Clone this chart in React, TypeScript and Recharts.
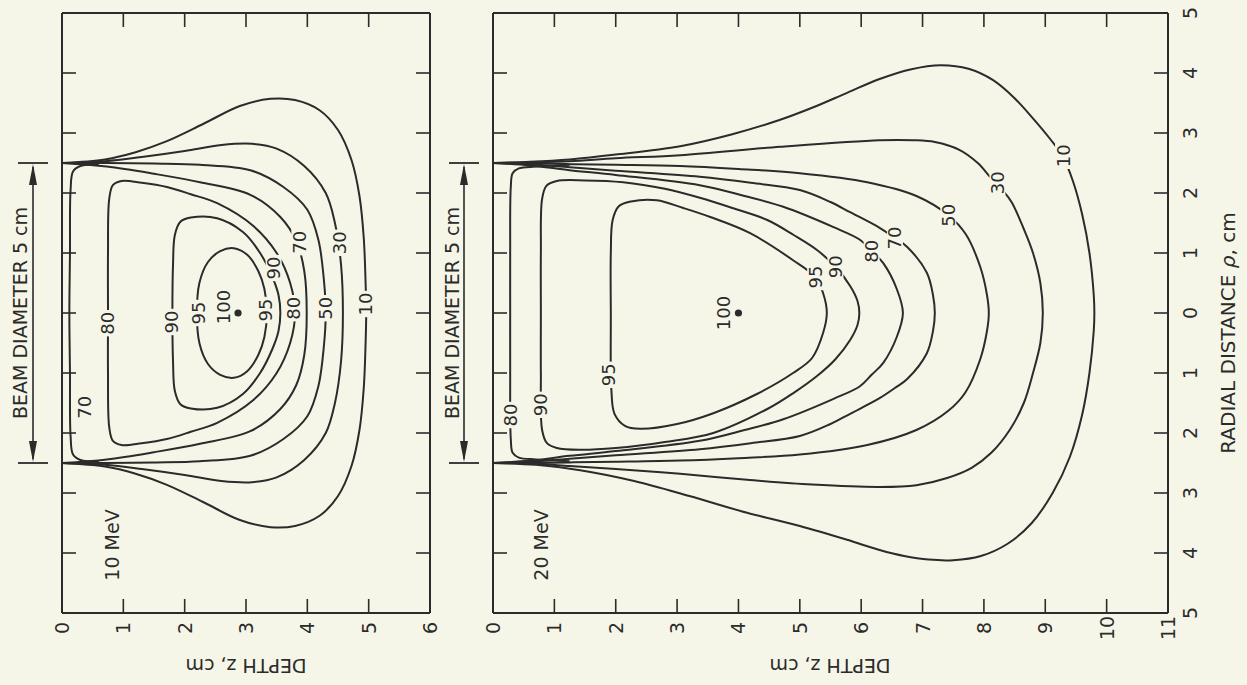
import React from 'react';
import { ScatterChart, Scatter, XAxis, YAxis } from 'recharts';

const BG = '#f6f6e8';
const INK = '#2b2b2b';
const FONT = '"DejaVu Sans", sans-serif';

// ---------- axis ticks ----------
const depthTicks10 = [0, 1, 2, 3, 4, 5, 6];
const depthTicks20 = [0, 1, 2, 3, 4, 5, 6, 7, 8, 9, 10, 11];
const radialTicks = [5, 4, 3, 2, 1, 0, -1, -2, -3, -4, -5];

// ---------- 10 MeV isodose curves [depth z, radial rho] ----------
const mev10Iso10 = [[0,2.5],[0.7,2.56],[1.2,2.68],[1.7,2.86],[2.3,3.15],[2.9,3.45],[3.4,3.57],[3.8,3.55],[4.2,3.38],[4.5,3.05],[4.72,2.55],[4.85,1.95],[4.92,1.25],[4.95,0.5],[4.96,0],[4.95,-0.5],[4.92,-1.25],[4.85,-1.95],[4.72,-2.55],[4.5,-3.05],[4.2,-3.38],[3.8,-3.55],[3.4,-3.57],[2.9,-3.45],[2.3,-3.15],[1.7,-2.86],[1.2,-2.68],[0.7,-2.56],[0,-2.5]];
const mev10Iso30 = [[0,2.5],[0.7,2.53],[1.3,2.6],[2.0,2.7],[2.6,2.8],[3.1,2.82],[3.5,2.74],[3.95,2.45],[4.3,2.0],[4.45,1.5],[4.55,0.8],[4.58,0],[4.55,-0.8],[4.45,-1.5],[4.3,-2.0],[3.95,-2.45],[3.5,-2.74],[3.1,-2.82],[2.6,-2.8],[2.0,-2.7],[1.3,-2.6],[0.7,-2.53],[0,-2.5]];
const mev10Iso50 = [[0,2.5],[0.7,2.5],[1.5,2.49],[2.25,2.47],[3.07,2.38],[3.61,2.1],[4.0,1.72],[4.18,1.22],[4.27,0.55],[4.3,0],[4.27,-0.55],[4.18,-1.22],[4.0,-1.72],[3.61,-2.1],[3.07,-2.38],[2.25,-2.47],[1.5,-2.49],[0.7,-2.5],[0,-2.5]];
const mev10Iso70Deep = [[0,2.5],[0.73,2.44],[1.5,2.32],[2.25,2.18],[3.07,1.97],[3.56,1.6],[3.82,1.2],[3.95,0.7],[3.99,0],[3.95,-0.7],[3.82,-1.2],[3.56,-1.6],[3.07,-1.97],[2.25,-2.18],[1.5,-2.32],[0.73,-2.44],[0,-2.5]];
const mev10Iso70Surf = [[0.6,2.48],[0.3,2.45],[0.18,2.36],[0.14,2.05],[0.13,1.0],[0.12,0],[0.13,-1.0],[0.14,-2.05],[0.18,-2.36],[0.3,-2.45],[0.6,-2.48]];
const mev10Iso80 = [[0.75,0],[0.75,1.0],[0.77,1.9],[0.83,2.13],[0.97,2.2],[1.3,2.17],[1.71,2.1],[2.1,1.98],[2.53,1.83],[3.12,1.45],[3.5,1.0],[3.72,0.5],[3.8,0],[3.72,-0.5],[3.5,-1.0],[3.12,-1.45],[2.53,-1.83],[2.1,-1.98],[1.71,-2.1],[1.3,-2.17],[0.97,-2.2],[0.83,-2.13],[0.77,-1.9],[0.75,-1.0],[0.75,0]];
const mev10Iso90 = [[1.8,0],[1.81,0.8],[1.84,1.3],[1.93,1.52],[2.1,1.59],[2.53,1.58],[2.95,1.35],[3.23,1.0],[3.43,0.6],[3.53,0.3],[3.56,0],[3.53,-0.3],[3.43,-0.6],[3.23,-1.0],[2.95,-1.35],[2.53,-1.58],[2.1,-1.59],[1.93,-1.52],[1.84,-1.3],[1.81,-0.8],[1.8,0]];
const mev10Iso95 = [[2.2,0],[2.24,0.5],[2.38,0.85],[2.58,1.03],[2.8,1.08],[3.02,0.97],[3.2,0.7],[3.3,0.4],[3.34,0],[3.3,-0.4],[3.2,-0.7],[3.02,-0.97],[2.8,-1.08],[2.58,-1.03],[2.38,-0.85],[2.24,-0.5],[2.2,0]];
const mev10Peak = [[2.87, 0]];
const mev10Labels: [number, number, string][] = [[4.95,0.15,'10'],[4.52,1.17,'30'],[4.3,0.08,'50'],[3.87,1.18,'70'],[0.36,-1.57,'70'],[3.77,0.08,'80'],[0.75,-0.17,'80'],[3.45,0.75,'90'],[1.78,-0.15,'90'],[3.31,0.05,'95'],[2.22,0,'95'],[2.63,0.1,'100']];

// ---------- 20 MeV isodose curves ----------
const mev20Iso10 = [[0,2.5],[0.6,2.52],[1.25,2.56],[2.0,2.64],[3.05,2.78],[3.9,2.98],[4.68,3.22],[5.2,3.42],[5.77,3.67],[6.3,3.9],[6.8,4.06],[7.3,4.13],[7.75,4.07],[8.15,3.88],[8.5,3.58],[8.82,3.22],[9.08,2.9],[9.29,2.6],[9.45,2.2],[9.6,1.65],[9.72,1.0],[9.79,0.3],[9.8,0],[9.79,-0.3],[9.72,-1.0],[9.6,-1.7],[9.4,-2.4],[9.12,-3.0],[8.78,-3.5],[8.38,-3.85],[7.95,-4.05],[7.5,-4.12],[7.1,-4.11],[6.7,-4.05],[6.3,-3.95],[5.77,-3.78],[5.0,-3.55],[4.14,-3.33],[3.2,-3.05],[2.3,-2.8],[1.42,-2.62],[0.7,-2.53],[0,-2.5]];
const mev20Iso30 = [[0,2.5],[0.6,2.51],[1.25,2.53],[2.0,2.58],[3.05,2.63],[4.68,2.77],[6.3,2.88],[6.85,2.88],[7.2,2.85],[7.6,2.72],[7.9,2.5],[8.1,2.27],[8.3,2.05],[8.45,1.85],[8.65,1.4],[8.8,1.0],[8.92,0.5],[8.96,0],[8.92,-0.5],[8.8,-1.0],[8.65,-1.5],[8.42,-1.95],[8.12,-2.33],[7.8,-2.58],[7.4,-2.75],[6.9,-2.87],[6.3,-2.9],[5.2,-2.86],[4.14,-2.78],[3.05,-2.68],[2.0,-2.6],[1.25,-2.55],[0.6,-2.51],[0,-2.5]];
const mev20Iso50 = [[0,2.5],[0.6,2.5],[1.25,2.48],[2.0,2.47],[3.05,2.45],[4.0,2.4],[5.0,2.33],[6.1,2.18],[6.9,1.95],[7.42,1.63],[7.7,1.32],[7.94,0.77],[8.05,0.3],[8.08,0],[8.05,-0.3],[7.94,-0.77],[7.7,-1.32],[7.42,-1.63],[6.9,-1.95],[6.1,-2.2],[5.0,-2.36],[4.0,-2.42],[3.05,-2.46],[2.0,-2.48],[1.25,-2.49],[0.6,-2.5],[0,-2.5]];
const mev20Iso70 = [[0,2.5],[0.6,2.48],[1.25,2.43],[2.0,2.37],[3.37,2.27],[4.2,2.17],[5.0,2.05],[5.5,1.85],[5.82,1.68],[6.3,1.42],[6.55,1.25],[6.75,1.1],[7.07,0.67],[7.17,0.3],[7.2,0],[7.17,-0.3],[7.07,-0.67],[6.75,-1.1],[6.55,-1.25],[6.3,-1.42],[5.82,-1.68],[5.5,-1.85],[5.0,-2.05],[4.2,-2.17],[3.37,-2.27],[2.0,-2.37],[1.25,-2.43],[0.6,-2.48],[0,-2.5]];
const mev20Iso80Deep = [[0,2.5],[0.6,2.46],[1.25,2.38],[2.0,2.3],[3.37,2.13],[4.1,1.95],[4.73,1.77],[5.55,1.43],[5.98,1.22],[6.17,1.03],[6.36,0.83],[6.58,0.4],[6.68,0],[6.58,-0.4],[6.36,-0.83],[6.17,-1.03],[5.98,-1.22],[5.55,-1.43],[4.73,-1.77],[4.1,-1.95],[3.37,-2.13],[2.0,-2.3],[1.25,-2.38],[0.6,-2.46],[0,-2.5]];
const mev20Iso80Surf = [[1.25,2.47],[0.7,2.44],[0.42,2.41],[0.32,2.33],[0.29,2.1],[0.28,1.0],[0.28,0],[0.28,-1.0],[0.29,-2.1],[0.32,-2.33],[0.42,-2.41],[0.7,-2.44],[1.25,-2.47]];
const mev20Iso90 = [[0.78,0],[0.78,1.0],[0.8,1.9],[0.87,2.12],[1.04,2.2],[1.5,2.21],[2.12,2.18],[2.8,2.07],[3.37,1.92],[3.9,1.75],[4.47,1.55],[4.9,1.3],[5.28,1.05],[5.58,0.77],[5.82,0.45],[5.94,0.2],[5.97,0],[5.94,-0.2],[5.82,-0.45],[5.58,-0.77],[5.28,-1.05],[4.9,-1.33],[4.47,-1.6],[3.59,-2.0],[2.8,-2.15],[2.0,-2.25],[1.42,-2.28],[1.04,-2.25],[0.88,-2.17],[0.8,-1.95],[0.78,-1.0],[0.78,0]];
const mev20Iso95 = [[1.92,0],[1.92,1.0],[1.95,1.55],[2.05,1.78],[2.25,1.86],[2.67,1.88],[3.1,1.75],[3.54,1.6],[4.19,1.33],[4.89,0.88],[5.25,0.6],[5.38,0.33],[5.44,0],[5.38,-0.33],[5.2,-0.75],[4.89,-1.0],[4.3,-1.35],[3.59,-1.67],[3.0,-1.85],[2.4,-1.93],[2.15,-1.88],[1.98,-1.68],[1.93,-1.3],[1.92,0]];
const mev20Peak = [[4.0, 0]];
const mev20Labels: [number, number, string][] = [[9.29,2.62,'10'],[8.22,2.17,'30'],[7.42,1.63,'50'],[6.55,1.25,'70'],[6.17,1.03,'80'],[5.58,0.77,'90'],[5.25,0.6,'95'],[3.75,0,'100'],[0.29,-1.7,'80'],[0.78,-1.53,'90'],[1.88,-1.03,'95']];

// ---------- helpers ----------
const toPts = (a: number[][]) => a.map(([d, p]) => ({ d, p }));
const toLabels = (a: [number, number, string][]) => a.map(([d, p, t]) => ({ d, p, t }));

// centripetal Catmull-Rom curve factory (d3-style)
function catmullRom(context: any) {
  let pts: number[][] = [];
  const seg = (p0: number[], p1: number[], p2: number[], p3: number[]) => {
    const dist = (a: number[], b: number[]) => Math.hypot(a[0] - b[0], a[1] - b[1]);
    const d01 = dist(p0, p1), d12 = dist(p1, p2), d23 = dist(p2, p3);
    const l01 = Math.sqrt(d01), l12 = Math.sqrt(d12), l23 = Math.sqrt(d23);
    let c1x = p1[0], c1y = p1[1], c2x = p2[0], c2y = p2[1];
    if (l01 > 1e-6) {
      const a = 2 * d01 + 3 * l01 * l12 + d12;
      const n = 3 * l01 * (l01 + l12);
      c1x = (p1[0] * a - p0[0] * d12 + p2[0] * d01) / n;
      c1y = (p1[1] * a - p0[1] * d12 + p2[1] * d01) / n;
    }
    if (l23 > 1e-6) {
      const b = 2 * d23 + 3 * l23 * l12 + d12;
      const m = 3 * l23 * (l23 + l12);
      c2x = (p2[0] * b + p1[0] * d23 - p3[0] * d12) / m;
      c2y = (p2[1] * b + p1[1] * d23 - p3[1] * d12) / m;
    }
    context.bezierCurveTo(c1x, c1y, c2x, c2y, p2[0], p2[1]);
  };
  return {
    areaStart() {},
    areaEnd() {},
    lineStart() { pts = []; },
    point(x: number, y: number) { pts.push([+x, +y]); },
    lineEnd() {
      const n = pts.length;
      if (!n) return;
      const closed = n > 3 && Math.abs(pts[0][0] - pts[n - 1][0]) < 0.5 && Math.abs(pts[0][1] - pts[n - 1][1]) < 0.5;
      context.moveTo(pts[0][0], pts[0][1]);
      for (let i = 0; i < n - 1; i++) {
        const p1 = pts[i], p2 = pts[i + 1];
        const p0 = i > 0 ? pts[i - 1] : closed ? pts[n - 2] : p1;
        const p3 = i < n - 2 ? pts[i + 2] : closed ? pts[1] : p2;
        seg(p0, p1, p2, p3);
      }
      if (closed) context.closePath();
    },
  };
}

const TICK = 14;
const tickText = { fontFamily: FONT, fontSize: 19, fill: INK } as const;

const BottomTick = (props: any) => {
  const { x, y, payload } = props;
  const ly = y + 15;
  return (
    <g>
      <line x1={x} y1={y} x2={x} y2={y - TICK} stroke={INK} strokeWidth={1.6} />
      <text x={x} y={ly} transform={`rotate(-90 ${x} ${ly})`} textAnchor="middle" dominantBaseline="central" {...tickText}>{payload.value}</text>
    </g>
  );
};
const TopTick = (props: any) => {
  const { x, y } = props;
  return <line x1={x} y1={y} x2={x} y2={y + TICK} stroke={INK} strokeWidth={1.6} />;
};
const LeftTick = (props: any) => {
  const { x, y } = props;
  return <line x1={x} y1={y} x2={x + TICK} y2={y} stroke={INK} strokeWidth={1.6} />;
};
const RightTickPlain = (props: any) => {
  const { x, y } = props;
  return <line x1={x} y1={y} x2={x - TICK} y2={y} stroke={INK} strokeWidth={1.6} />;
};
const RightTickLabel = (props: any) => {
  const { x, y, payload } = props;
  const lx = x + 22;
  return (
    <g>
      <line x1={x} y1={y} x2={x - TICK} y2={y} stroke={INK} strokeWidth={1.6} />
      <text x={lx} y={y} transform={`rotate(-90 ${lx} ${y})`} textAnchor="middle" dominantBaseline="central" {...tickText}>{Math.abs(payload.value)}</text>
    </g>
  );
};

const NoShape = () => <g />;
const PeakDot = (props: any) => (props.cx == null ? <g /> : <circle cx={props.cx} cy={props.cy} r={3.6} fill={INK} />);
const IsoLabel = (props: any) => {
  const { cx, cy } = props;
  if (cx == null) return <g />;
  const t = String(props.payload?.t ?? props.t ?? '');
  const len = t.length * 11.2 + 4;
  return (
    <g>
      <rect x={cx - 8} y={cy - len / 2} width={16} height={len} fill={BG} />
      <text x={cx} y={cy} transform={`rotate(-90 ${cx} ${cy})`} textAnchor="middle" dominantBaseline="central" fontFamily={FONT} fontSize={18} fill={INK}>{t}</text>
    </g>
  );
};

const axisLine = { stroke: INK, strokeWidth: 2 };

function Panel(props: { left: number; right: number; depthMax: number; depthTicks: number[]; curves: number[][][]; peak: number[][]; labels: [number, number, string][]; labelRight: boolean }) {
  const { left, right, depthMax, depthTicks, curves, peak, labels, labelRight } = props;
  const inner = depthTicks.filter((t) => t > 0 && t < depthMax);
  // plot area: x from `left` to `right`, y from 13 to 613 (each axis occupies 1px)
  return (
    <div style={{ position: 'absolute', left: 0, top: 0 }}>
      <ScatterChart width={1247} height={685} margin={{ top: 12, right: 1247 - right - 1, bottom: 71, left: left - 1 }}>
        <XAxis xAxisId="b" type="number" dataKey="d" domain={[0, depthMax]} ticks={depthTicks} interval={0} orientation="bottom" height={1} tickSize={0} tickMargin={0} tickLine={false} axisLine={axisLine} tick={(p: any) => <BottomTick {...p} />} allowDataOverflow />
        <XAxis xAxisId="t" type="number" dataKey="d" domain={[0, depthMax]} ticks={inner} interval={0} orientation="top" height={1} tickSize={0} tickMargin={0} tickLine={false} axisLine={axisLine} tick={(p: any) => <TopTick {...p} />} allowDataOverflow />
        <YAxis yAxisId="l" type="number" dataKey="p" domain={[-5, 5]} ticks={radialTicks.filter((t) => Math.abs(t) < 5)} interval={0} orientation="left" width={1} tickSize={0} tickMargin={0} tickLine={false} axisLine={axisLine} tick={(p: any) => <LeftTick {...p} />} allowDataOverflow />
        <YAxis yAxisId="r" type="number" dataKey="p" domain={[-5, 5]} ticks={labelRight ? radialTicks : radialTicks.filter((t) => Math.abs(t) < 5)} interval={0} orientation="right" width={1} tickSize={0} tickMargin={0} tickLine={false} axisLine={axisLine} tick={(p: any) => (labelRight ? <RightTickLabel {...p} /> : <RightTickPlain {...p} />)} allowDataOverflow />
        {curves.map((c, i) => (
          <Scatter key={i} xAxisId="b" yAxisId="l" data={toPts(c)} line={{ stroke: INK, strokeWidth: 2 }} lineType="joint" lineJointType={catmullRom as any} shape={NoShape} fill={INK} isAnimationActive={false} />
        ))}
        <Scatter xAxisId="b" yAxisId="l" data={toPts(peak)} shape={PeakDot} fill={INK} isAnimationActive={false} />
        <Scatter xAxisId="b" yAxisId="l" data={toLabels(labels)} shape={IsoLabel} fill={INK} isAnimationActive={false} />
      </ScatterChart>
    </div>
  );
}

const annText = { fontFamily: FONT, fontSize: 19, fill: INK } as const;

function BeamMark({ x, textX }: { x: number; textX: number }) {
  const yTop = 163, yBot = 463;
  return (
    <g>
      <line x1={x - 15} y1={yTop} x2={x + 15} y2={yTop} stroke={INK} strokeWidth={1.8} />
      <line x1={x - 15} y1={yBot} x2={x + 15} y2={yBot} stroke={INK} strokeWidth={1.8} />
      <line x1={x} y1={yTop + 4} x2={x} y2={yBot - 4} stroke={INK} strokeWidth={1.6} />
      <polygon points={`${x},${yTop + 1} ${x - 4},${yTop + 22} ${x + 4},${yTop + 22}`} fill={INK} />
      <polygon points={`${x},${yBot - 1} ${x - 4},${yBot - 22} ${x + 4},${yBot - 22}`} fill={INK} />
      <text x={textX} y={313} transform={`rotate(-90 ${textX} 313)`} textAnchor="middle" dominantBaseline="central" {...annText}>BEAM DIAMETER 5 cm</text>
    </g>
  );
}

export default function App() {
  return (
    <div style={{ position: 'absolute', left: 0, top: 0, width: 1247, height: 685, background: BG, overflow: 'hidden' }}>
      <Panel left={62} right={430} depthMax={6} depthTicks={depthTicks10} curves={[mev10Iso10, mev10Iso30, mev10Iso50, mev10Iso70Deep, mev10Iso70Surf, mev10Iso80, mev10Iso90, mev10Iso95]} peak={mev10Peak} labels={mev10Labels} labelRight={false} />
      <Panel left={493} right={1168} depthMax={11} depthTicks={depthTicks20} curves={[mev20Iso10, mev20Iso30, mev20Iso50, mev20Iso70, mev20Iso80Deep, mev20Iso80Surf, mev20Iso90, mev20Iso95]} peak={mev20Peak} labels={mev20Labels} labelRight={true} />
      <svg width={1247} height={685} style={{ position: 'absolute', left: 0, top: 0, pointerEvents: 'none' }}>
        <BeamMark x={33} textX={20} />
        <BeamMark x={464} textX={452} />
        <text x={112} y={545} transform="rotate(-90 112 545)" textAnchor="middle" dominantBaseline="central" {...annText}>10 MeV</text>
        <text x={541} y={545} transform="rotate(-90 541 545)" textAnchor="middle" dominantBaseline="central" {...annText}>20 MeV</text>
        <text x={246} y={666} transform="rotate(180 246 666)" textAnchor="middle" dominantBaseline="central" {...annText}>DEPTH z, cm</text>
        <text x={830} y={666} transform="rotate(180 830 666)" textAnchor="middle" dominantBaseline="central" {...annText}>DEPTH z, cm</text>
        <text x={1228} y={333} transform="rotate(-90 1228 333)" textAnchor="middle" dominantBaseline="central" fontFamily={FONT} fontSize={20} fill={INK}>
          RADIAL DISTANCE  <tspan fontStyle="italic">ρ</tspan>, cm
        </text>
      </svg>
    </div>
  );
}
